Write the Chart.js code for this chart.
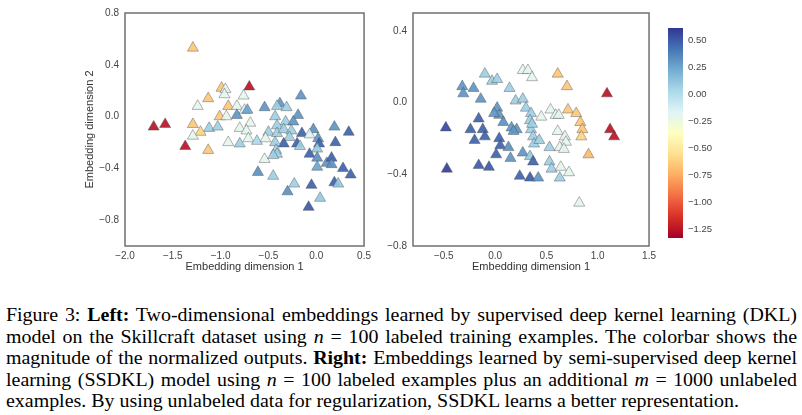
<!DOCTYPE html>
<html><head><meta charset="utf-8">
<script src="https://cdn.jsdelivr.net/npm/chart.js@4/dist/chart.umd.min.js"></script>
<style>
html,body{margin:0;padding:0;background:#fff}
body{width:802px;height:415px;overflow:hidden;position:relative;font-family:"Liberation Sans",Arial,sans-serif}
.box{position:absolute;top:0;height:285px}
.box canvas{display:block}
#caption{position:absolute;left:6px;top:304px;font-family:"Liberation Serif","Times New Roman",serif;font-size:19px;line-height:21.5px;color:#000;transform-origin:0 0}
#caption div{white-space:nowrap}
</style></head><body>
<div class="box" style="left:60px;width:315px"><canvas id="cLeft" width="315" height="285"></canvas></div>
<div class="box" style="left:375px;width:285px"><canvas id="cRight" width="285" height="285"></canvas></div>
<div class="box" style="left:660px;width:60px"><canvas id="cBar" width="60" height="285"></canvas></div>
<div id="caption">
<div class="j">Figure 3: <b>Left:</b> Two-dimensional embeddings learned by supervised deep kernel learning (DKL)</div>
<div class="j">model on the Skillcraft dataset using <i>n</i> = 100 labeled training examples. The colorbar shows the</div>
<div class="j">magnitude of the normalized outputs. <b>Right:</b> Embeddings learned by semi-supervised deep kernel</div>
<div class="j">learning (SSDKL) model using <i>n</i> = 100 labeled examples plus an additional <i>m</i> = 1000 unlabeled</div>
<div id="last">examples. By using unlabeled data for regularization, SSDKL learns a better representation.</div>
</div>
<script>
// ---- data ----
const leftX = [-1.29,-0.99,-0.95,-0.70,-0.96,-0.76,-1.13,-0.16,-1.24,-0.92,-0.83,-0.75,-0.72,-0.54,-0.38,-0.41,-0.31,-1.01,-0.94,-0.83,-0.43,-0.19,-1.70,-1.58,-1.29,-1.12,-1.03,-0.80,-0.69,-0.32,-0.24,0.19,0.34,-0.03,-1.21,-1.29,-1.37,-1.13,-0.73,-0.71,-0.92,-0.80,-0.62,-0.41,-0.50,-0.53,-0.41,-0.34,-0.26,-0.15,-0.28,-0.34,-0.20,-0.43,-0.42,-0.07,0.02,0.20,-0.17,0.03,0.01,-0.07,0.01,0.11,0.16,0.16,-0.54,-0.41,-0.45,0.01,0.28,0.36,-0.61,-0.45,-0.23,-0.30,-0.05,0.19,0.23,0.04,-0.08];
const leftY = [0.53,0.22,0.21,0.23,0.17,0.16,0.14,0.16,0.08,0.08,0.08,0.05,0.05,0.07,0.10,0.08,0.07,0.00,0.00,0.01,0.00,0.01,-0.08,-0.06,-0.06,-0.09,-0.08,-0.09,-0.05,-0.04,-0.04,-0.08,-0.12,-0.10,-0.12,-0.15,-0.23,-0.26,-0.11,-0.17,-0.20,-0.21,-0.19,-0.07,-0.12,-0.17,-0.13,-0.10,-0.11,-0.13,-0.16,-0.21,-0.21,-0.20,-0.26,-0.14,-0.17,-0.20,-0.23,-0.21,-0.25,-0.29,-0.32,-0.36,-0.32,-0.37,-0.33,-0.29,-0.30,-0.39,-0.40,-0.45,-0.43,-0.46,-0.52,-0.58,-0.53,-0.51,-0.52,-0.63,-0.70];
const leftV = [-0.65,-0.65,-0.2,-1.25,-0.2,-0.2,-0.65,0.3,-0.2,-0.65,-0.2,-0.15,0.25,0.3,0.3,0.07,0.07,-0.65,-0.2,0.3,0.07,0.3,-1.25,-1.25,-0.65,0.07,0.07,-0.2,-0.2,0.07,0.3,0.3,0.47,0.32,-0.6,-0.2,-1.25,-0.65,-0.2,-0.2,-0.2,0.07,0.02,0.07,0.07,-0.2,0.07,0.07,0.07,0.47,0.07,0.47,0.47,0.07,0.07,-0.15,0.3,0.47,0.07,0.47,0.1,0.47,0.32,0.3,0.47,0.32,-0.2,0.07,0.07,0.25,0.47,0.47,0.32,0.07,0.07,0.32,0.47,0.47,0.1,0.1,0.5];

const rightX = [-0.10,-0.03,0.02,-0.32,-0.31,-0.21,-0.14,0.14,0.27,0.32,0.36,0.61,0.70,1.09,0.20,0.27,0.30,0.35,0.02,0.04,-0.01,-0.16,0.08,0.16,0.21,0.34,0.35,0.45,0.54,0.59,0.62,0.71,0.79,0.83,0.85,0.84,0.61,0.68,0.69,1.12,1.16,-0.48,-0.24,-0.12,-0.10,-0.20,0.04,0.05,0.13,0.01,0.15,0.18,0.27,0.34,0.37,0.36,0.37,0.38,0.43,0.53,0.53,0.55,0.63,0.64,0.72,0.63,0.67,0.82,0.91,-0.47,-0.16,-0.06,0.24,0.34,0.42];
const rightY = [0.16,0.12,0.13,0.09,0.05,0.08,0.02,0.08,0.18,0.18,0.14,0.16,0.09,0.05,0.01,0.02,-0.03,-0.06,-0.03,-0.07,-0.06,-0.09,-0.11,-0.14,-0.15,-0.10,-0.15,-0.08,-0.04,-0.07,-0.07,-0.04,-0.06,-0.11,-0.15,-0.19,-0.16,-0.19,-0.22,-0.15,-0.19,-0.14,-0.15,-0.15,-0.19,-0.21,-0.20,-0.24,-0.25,-0.29,-0.31,-0.16,-0.28,-0.30,-0.33,-0.12,-0.19,-0.23,-0.21,-0.25,-0.33,-0.37,-0.42,-0.36,-0.39,-0.25,-0.26,-0.56,-0.29,-0.37,-0.35,-0.36,-0.41,-0.42,-0.42];
const rightV = [0.07,0.07,0.07,0.3,0.3,0.3,0.3,0.07,-0.2,-0.2,-0.2,-0.65,-0.65,-1.25,0.07,0.07,0.07,0.07,0.3,0.3,0.3,0.47,0.32,0.3,0.3,0.07,0.07,-0.2,-0.2,-0.2,-0.2,-0.65,-0.65,-0.65,-0.65,-0.6,-0.2,-0.2,-0.2,-1.25,-1.25,0.55,0.47,0.47,0.47,0.47,0.47,0.47,0.32,0.47,0.3,0.3,0.3,0.1,0.47,0.07,0.07,0.07,0.07,0.07,0.07,0.07,0.07,-0.2,-0.2,-0.2,-0.2,-0.2,-0.7,0.58,0.5,0.5,0.47,0.5,0.3];

const leftXTicks = [-2.0,-1.5,-1.0,-0.5,0.0,0.5];
const leftYTicks = [-0.8,-0.4,0.0,0.4,0.8];
const rightXTicks = [-0.5,0.0,0.5,1.0,1.5];
const rightYTicks = [-0.8,-0.4,0.0,0.4];
const barTicks = [-1.25,-1.0,-0.75,-0.5,-0.25,0.0,0.25,0.5];
const leftRange = {xmin:-2.0,xmax:0.5,ymin:-1.0,ymax:0.8};
const rightRange = {xmin:-0.8,xmax:1.5,ymin:-0.8,ymax:0.5};
const vmin = -1.33, vmax = 0.61;
const xTitle = 'Embedding dimension 1', yTitle = 'Embedding dimension 2';

// ---- colormap RdYlBu ----
const RdYlBu = ['#a50026','#d73027','#f46d43','#fdae61','#fee090','#ffffbf','#e0f3f8','#abd9e9','#74add1','#4575b4','#313695'];
function hex(h){return [parseInt(h.slice(1,3),16),parseInt(h.slice(3,5),16),parseInt(h.slice(5,7),16)];}
function cmap(v, a){
  let t = Math.max(0, Math.min(1, (v - vmin)/(vmax - vmin)));
  const p = t*(RdYlBu.length-1), i = Math.min(Math.floor(p), RdYlBu.length-2), f = p - i;
  const c0 = hex(RdYlBu[i]), c1 = hex(RdYlBu[i+1]);
  const c = c0.map((c,k)=>Math.round(c + (c1[k]-c)*f));
  return `rgba(${c[0]},${c[1]},${c[2]},${a})`;
}
const fmt = (d) => (v) => (v < -1e-9 ? '\u2212' : '') + Math.abs(v).toFixed(d);

const framePlugin = {
  id:'frame',
  afterDraw(chart){
    const {ctx, chartArea:a} = chart;
    ctx.save(); ctx.strokeStyle = '#707070'; ctx.lineWidth = 1.5;
    ctx.strokeRect(a.left, a.top, a.right - a.left, a.bottom - a.top);
    ctx.restore();
  }
};

Chart.defaults.font.family = '"Liberation Sans", Arial, sans-serif';
Chart.defaults.animation = false;

function scatter(id, X, Y, V, R, xt, yt, yw, showYTitle, padRight){
  const pts = X.map((x,i)=>({x, y:Y[i]}));
  const tickFont = {size:10};
  new Chart(document.getElementById(id), {
    type:'scatter',
    data:{datasets:[{
      data:pts,
      pointStyle:'triangle',
      pointRadius:6.4,
      pointHoverRadius:6.4,
      backgroundColor:V.map(v=>cmap(v,0.92)),
      borderColor:'rgba(70,70,70,0.5)',
      borderWidth:0.8
    }]},
    options:{
      responsive:false, events:[],
      layout:{padding:{top:13,right:padRight,left:0,bottom:0}},
      plugins:{legend:{display:false},tooltip:{enabled:false}},
      scales:{
        x:{type:'linear',min:R.xmin,max:R.xmax,
           grid:{display:false,drawTicks:false},border:{display:false},
           afterBuildTicks:s=>{s.ticks = xt.map(v=>({value:v}));},
           afterFit:s=>{s.height = 39;},
           ticks:{font:tickFont,color:'#444',padding:4,callback:fmt(1),maxRotation:0,autoSkip:false},
           title:{display:true,text:xTitle,color:'#333',font:{size:11},padding:{top:0,bottom:11}}},
        y:{type:'linear',min:R.ymin,max:R.ymax,
           grid:{display:false,drawTicks:false},border:{display:false},
           afterBuildTicks:s=>{s.ticks = yt.map(v=>({value:v}));},
           afterFit:s=>{s.width = yw;},
           ticks:{font:tickFont,color:'#444',padding:6,callback:fmt(1),autoSkip:false},
           title:{display:showYTitle,text:yTitle,color:'#333',font:{size:11},padding:{top:23,bottom:0}}}
      }
    },
    plugins:[framePlugin]
  });
}
scatter('cLeft', leftX, leftY, leftV, leftRange, leftXTicks, leftYTicks, 65, true, 10);
scatter('cRight', rightX, rightY, rightV, rightRange, rightXTicks, rightYTicks, 38, false, 7);

const gradPlugin = {
  id:'grad',
  beforeDatasetsDraw(chart){
    const {ctx, chartArea:a} = chart;
    const g = ctx.createLinearGradient(0, a.bottom, 0, a.top);
    RdYlBu.forEach((c,i)=>g.addColorStop(i/(RdYlBu.length-1), c));
    ctx.save(); ctx.fillStyle = g;
    ctx.fillRect(a.left, a.top, a.right - a.left, a.bottom - a.top);
    ctx.restore();
  }
};
new Chart(document.getElementById('cBar'), {
  type:'scatter',
  data:{datasets:[{data:[]}]},
  options:{
    responsive:false, events:[],
    layout:{padding:{top:28,left:8,right:0,bottom:47}},
    plugins:{legend:{display:false},tooltip:{enabled:false}},
    scales:{
      x:{display:false,min:0,max:1},
      y:{position:'right',min:vmin,max:vmax,
         grid:{display:false,drawTicks:false},border:{display:false},
         afterBuildTicks:s=>{s.ticks = barTicks.map(v=>({value:v}));},
         afterFit:s=>{s.width = 37;},
         ticks:{font:{size:9.5},color:'#444',padding:5,callback:fmt(2),autoSkip:false}}
    }
  },
  plugins:[gradPlugin]
});

// scale + justify caption lines
function textWidth(d){
  const r = document.createRange(); r.selectNodeContents(d);
  return r.getBoundingClientRect().width;
}
function layoutCaption(){
  const cap = document.getElementById('caption');
  cap.style.transform = 'none';
  document.querySelectorAll('#caption .j').forEach(d=>{ d.style.wordSpacing = '0px'; });
  const lastW = textWidth(document.getElementById('last'));
  const s = 733 / lastW;
  const W = 791 / s;
  document.querySelectorAll('#caption .j').forEach(d=>{
    const w = textWidth(d);
    const n = (d.textContent.match(/ /g)||[]).length;
    d.style.wordSpacing = ((W - w)/n) + 'px';
  });
  cap.style.transform = 'scaleX(' + s + ')';
}
layoutCaption();
if (document.fonts && document.fonts.ready) document.fonts.ready.then(layoutCaption);
</script>
</body></html>
